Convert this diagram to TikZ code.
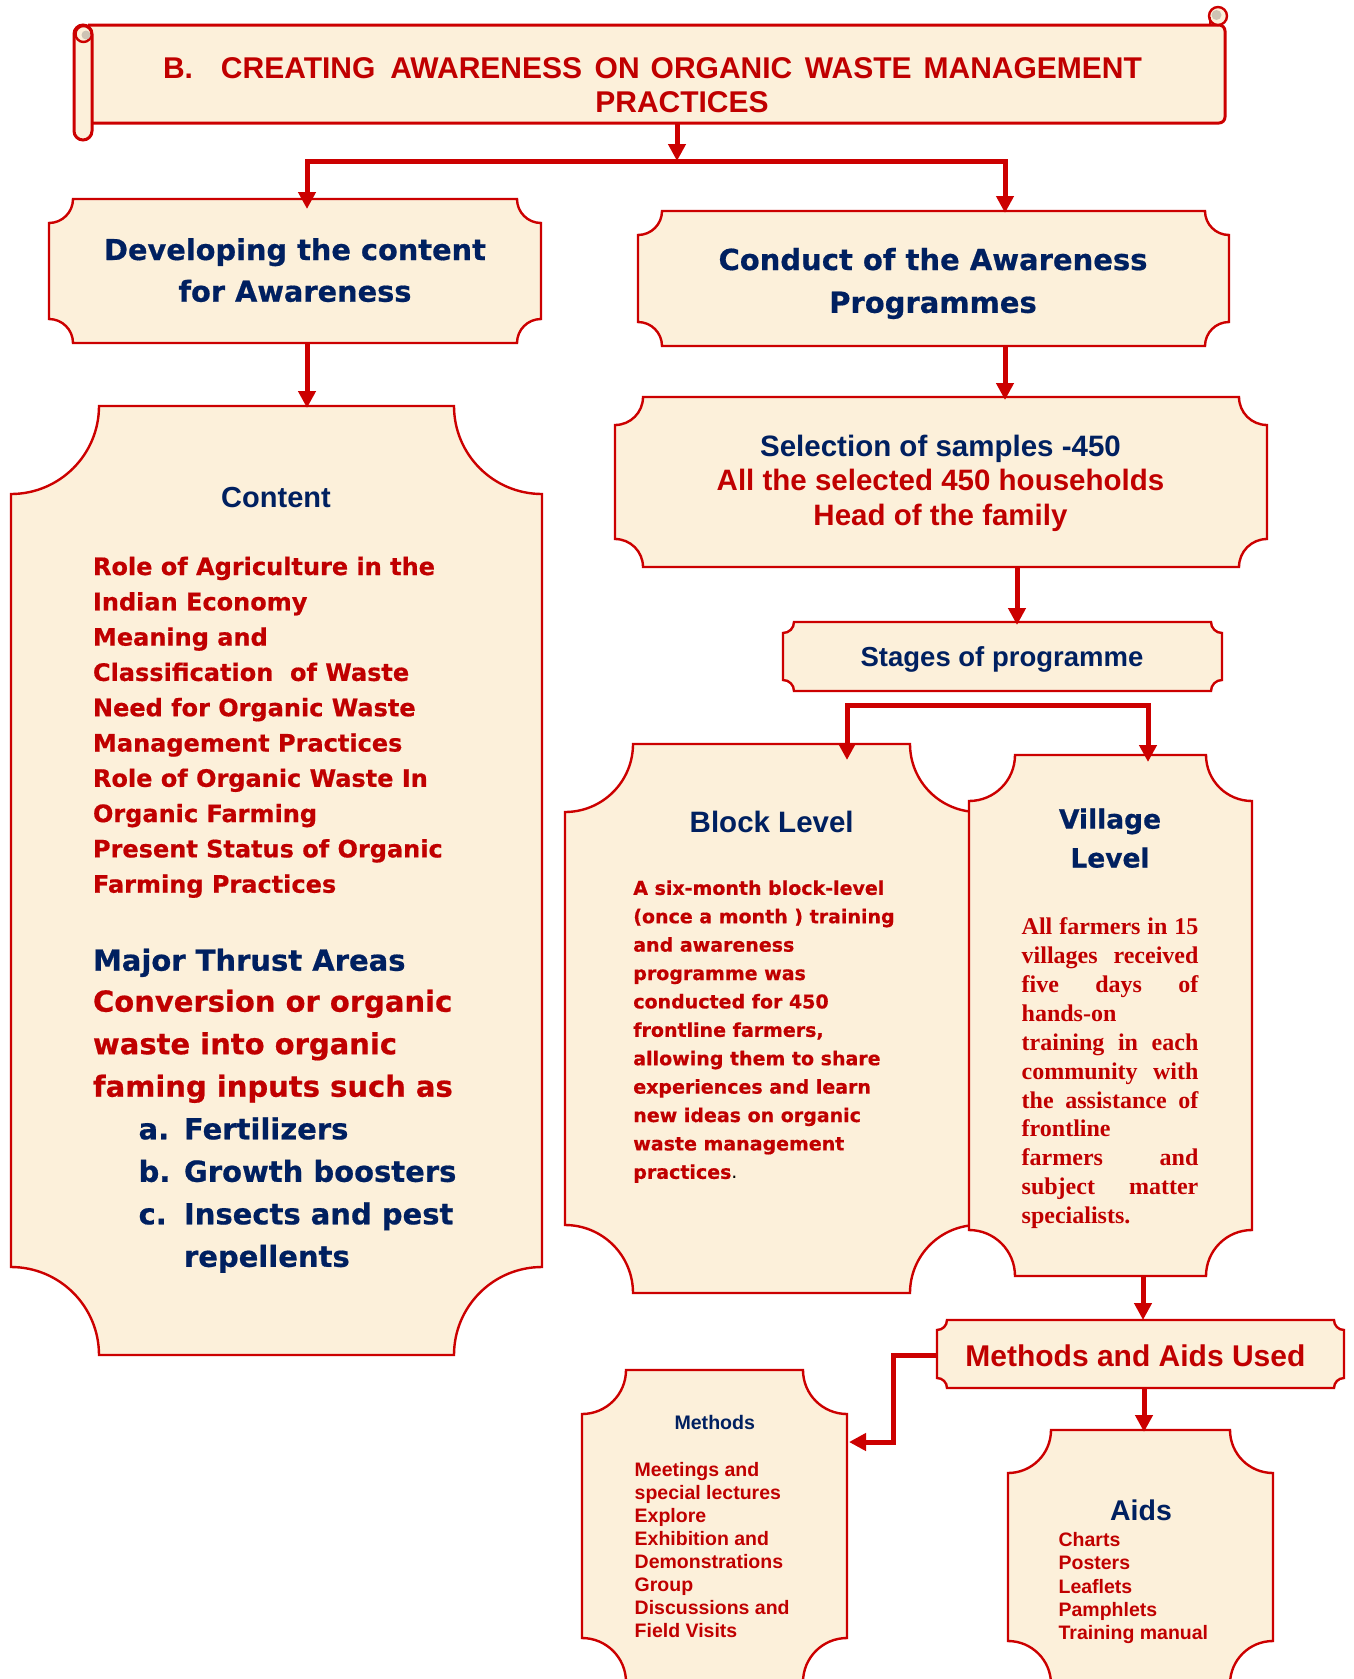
\documentclass[tikz,border=0pt]{standalone}
\usepackage{fontspec}
\setmainfont{Liberation Sans}
\newfontfamily\dvs{DejaVu Sans}[BoldFeatures={FakeBold=0.6}]
\newfontfamily\tms{Liberation Serif}
\usetikzlibrary{arrows.meta,fit}
\definecolor{boxred}{RGB}{204,0,0}
\definecolor{txtred}{RGB}{192,0,0}
\definecolor{navy}{RGB}{0,32,96}
\definecolor{parch}{RGB}{252,240,218}
\definecolor{curlgrey}{RGB}{205,195,180}
\newcommand\fsz[2]{\fontsize{#1pt}{#2pt}\selectfont}
% name, x1, y1, x2, y2, r  (y grows downward)
\newcommand\myplaque[6]{%
  \pgfmathsetmacro\pk{0.5523*#6}%
  \draw[boxline] ({#2+#6},#3) -- ({#4-#6},#3)
     .. controls ({#4-#6},{#3+\pk}) and ({#4-\pk},{#3+#6}) .. (#4,{#3+#6})
     -- (#4,{#5-#6})
     .. controls ({#4-\pk},{#5-#6}) and ({#4-#6},{#5-\pk}) .. ({#4-#6},#5)
     -- ({#2+#6},#5)
     .. controls ({#2+#6},{#5-\pk}) and ({#2+\pk},{#5-#6}) .. (#2,{#5-#6})
     -- (#2,{#3+#6})
     .. controls ({#2+\pk},{#3+#6}) and ({#2+#6},{#3+\pk}) .. cycle;
  \coordinate (#1-nw) at (#2,#3);
  \coordinate (#1-se) at (#4,#5);
  \node[fit=(#1-nw)(#1-se), inner sep=0pt, outer sep=0pt] (#1) {};
}
\begin{document}
\begin{tikzpicture}[x=1pt,y=-1pt,
  boxline/.style={draw=boxred,line width=2.4pt,fill=parch},
  arr/.style={draw=boxred,line width=5pt,-{Triangle[length=17pt,width=17pt]}},
  txt/.style={inner sep=0pt,outer sep=0pt},
  ]
\useasboundingbox (0,0) rectangle (1354,1679);
\fill[white] (0,0) rectangle (1354,1679);

% ---------- title scroll ----------
\draw[draw=boxred,line width=3pt,fill=parch,rounded corners=6pt]
  (88,25) -- (1225,25) -- (1225,123) -- (88,123);
\draw[draw=boxred,line width=3pt,fill=parch,rounded corners=9pt] (74,25) rectangle (92,140);
\draw[draw=boxred,line width=2.4pt,fill=parch] (83.5,34) circle[radius=8pt];
\fill[curlgrey] (86,35) circle[radius=4.5pt];
\draw[draw=boxred,line width=2.4pt,fill=parch] (1218,16) circle[radius=9pt];
\fill[curlgrey] (1216.5,15) circle[radius=5pt];
\draw[draw=boxred,line width=2.4pt] (1210,17) -- (1210,25);
\coordinate (ttl-nw) at (74,25);
\coordinate (ttl-se) at (1225,123);
\node[fit=(ttl-nw)(ttl-se), inner sep=0pt, outer sep=0pt] (title) {};

% ---------- boxes ----------
\myplaque{dev}{49}{199}{541}{343}{24}
\myplaque{conduct}{638}{211}{1229}{346}{24}
\myplaque{content}{11}{406}{542}{1355}{88}
\myplaque{select}{615}{397}{1267}{567}{28}
\myplaque{stages}{783}{622}{1222}{691}{11}
\myplaque{block}{565}{744}{978}{1293}{68}
\myplaque{village}{969}{755}{1252}{1276}{46}
\myplaque{ma}{937}{1320}{1344}{1388}{10}
\myplaque{methods}{582}{1370}{847}{1682}{44}
\myplaque{aids}{1008}{1430}{1273}{1684}{43}

% ---------- connectors ----------
\coordinate (barL) at (307,161);
\coordinate (barR) at (1005,161);
\coordinate (barM) at (677,161);
\draw[arr] (title.south -| barM) -- (barM);
\draw[arr,shorten >=-10pt] (barR) -- (barL) -- (dev.north -| barL);
\draw[arr,shorten >=-2pt] (barL) -- (barR) -- (conduct.north -| barR);
\draw[arr,shorten >=-2pt] (dev.south -| barL) -- (content.north -| barL);
\coordinate (cx) at (1005,0);
\draw[arr,shorten >=-3pt] (conduct.south -| cx) -- (select.north -| cx);
\coordinate (sx) at (1017,0);
\draw[arr,shorten >=-3pt] (select.south -| sx) -- (stages.north -| sx);
\coordinate (sbL) at (847,705);
\coordinate (sbR) at (1148,705);
\draw[arr,shorten >=-16pt] (sbR) -- (sbL) -- (block.north -| sbL);
\draw[arr,shorten >=-7pt] (sbL) -- (sbR) -- (village.north -| sbR);
\coordinate (vx) at (1143,0);
\draw[arr] (village.south -| vx) -- (ma.north -| vx);
\coordinate (mb1) at (893,1355);
\coordinate (mb2) at (893,1442);
\draw[arr,shorten >=2pt] (ma.west |- mb1) -- (mb1) -- (mb2) -- (methods.east |- mb2);
\coordinate (ax) at (1144,0);
\draw[arr,shorten >=-2pt] (ma.south -| ax) -- (aids.north -| ax);

% ---------- texts ----------
\node[txt,anchor=base west,text=txtred,font=\bfseries\fsz{30}{34}] (t-title1) at (163,78)
  {B.\hspace{28pt}CREATING\hspace{15pt}AWARENESS\hspace{12.6pt}ON\hspace{11pt}ORGANIC\hspace{12.6pt}WASTE\hspace{12pt}MANAGEMENT};
\node[txt,anchor=base,text=txtred,font=\bfseries\fsz{30}{34}] (t-title2) at (682,112) {PRACTICES};

\node[txt,anchor=base,text=navy,font=\dvs\bfseries\fsz{28.8}{41.7}] (t-dev) at (295,260)
  {\parbox[t]{480pt}{\centering Developing the content\\for Awareness}};
\node[txt,anchor=base,text=navy,font=\dvs\bfseries\fsz{29}{42.8}] (t-conduct) at (933,270)
  {\parbox[t]{580pt}{\centering Conduct of the Awareness\\Programmes}};

\node[txt,anchor=base,text=navy,font=\bfseries\fsz{29}{34}] (t-content) at (276,507) {Content};
\node[txt,anchor=base west,text=txtred,font=\dvs\bfseries\fsz{24}{35.3}] (t-clist) at (93,575)
  {\parbox[t]{440pt}{\raggedright Role of Agriculture in the\\Indian Economy\\Meaning and\\Classification\ \ of Waste\\Need for Organic Waste\\Management Practices\\Role of Organic Waste In\\Organic Farming\\Present Status of Organic\\Farming Practices}};
\node[txt,anchor=base west,text=navy,font=\dvs\bfseries\fsz{29}{42.5}] (t-major) at (93,970.7) {Major Thrust Areas};
\node[txt,anchor=base west,text=txtred,font=\dvs\bfseries\fsz{29}{42.5}] (t-conv) at (93,1011.7)
  {\parbox[t]{440pt}{\raggedright Conversion or organic\\waste into organic\\faming inputs such as}};
\node[txt,anchor=base west,text=navy,font=\dvs\bfseries\fsz{29}{42.5}] (t-abc) at (138.6,1139.3)
  {\parbox[t]{40pt}{\raggedright a.\\b.\\c.}};
\node[txt,anchor=base west,text=navy,font=\dvs\bfseries\fsz{29}{42.5}] (t-items) at (184,1139.3)
  {\parbox[t]{340pt}{\raggedright Fertilizers\\Growth boosters\\Insects and pest\\repellents}};

\node[txt,anchor=base,text=navy,font=\bfseries\fsz{29.5}{34.8}] (t-sel1) at (940.5,456) {Selection of samples -450};
\node[txt,anchor=base,text=txtred,font=\bfseries\fsz{29.5}{35}] (t-sel2) at (940.5,490.7)
  {\parbox[t]{620pt}{\centering All the selected 450 households\\Head of the family}};

\node[txt,anchor=base,text=navy,font=\bfseries\fsz{27.5}{32}] (t-stages) at (1002,666) {Stages of programme};

\node[txt,anchor=base,text=navy,font=\bfseries\fsz{29.5}{34}] (t-block) at (771.7,832) {Block Level};
\node[txt,anchor=base west,text=txtred,font=\dvs\bfseries\fsz{19}{28.4}] (t-btext) at (633.3,894.8)
  {\parbox[t]{320pt}{\raggedright A six-month block-level\\(once a month ) training\\and awareness\\programme was\\conducted for 450\\frontline farmers,\\allowing them to share\\experiences and learn\\new ideas on organic\\waste management\\practices{\color{black}\mdseries.}}};

\node[txt,anchor=base,text=navy,font=\dvs\bfseries\fsz{26.5}{38.9}] (t-village) at (1110,828.6)
  {\parbox[t]{240pt}{\centering Village\\Level}};
\node[txt,anchor=base west,text=txtred,font=\tms\bfseries\fsz{24}{28.9}] (t-vtext) at (1021.7,934.6)
  {\parbox[t]{176.7pt}{\raggedright
  \makebox[176.7pt][s]{All farmers in 15}\\
  \makebox[176.7pt][s]{villages received}\\
  \makebox[176.7pt][s]{five days of}\\
  hands-on\\
  \makebox[176.7pt][s]{training in each}\\
  \makebox[176.7pt][s]{community with}\\
  \makebox[176.7pt][s]{the assistance of}\\
  frontline\\
  \makebox[176.7pt][s]{farmers and}\\
  \makebox[176.7pt][s]{subject matter}\\
  specialists.}};

\node[txt,anchor=base,text=txtred,font=\bfseries\fsz{30}{35}] (t-ma) at (1135.4,1366.7) {Methods and Aids Used};

\node[txt,anchor=base,text=navy,font=\bfseries\fsz{19.6}{23}] (t-methods) at (714.8,1429.3) {Methods};
\node[txt,anchor=base west,text=txtred,font=\bfseries\fsz{19.5}{23}] (t-mlist) at (634.7,1476.7)
  {\parbox[t]{200pt}{\raggedright Meetings and\\special lectures\\Explore\\Exhibition and\\Demonstrations\\Group\\Discussions and\\Field Visits}};

\node[txt,anchor=base,text=navy,font=\bfseries\fsz{28.5}{33}] (t-aids) at (1141,1520.7) {Aids};
\node[txt,anchor=base west,text=txtred,font=\bfseries\fsz{19.5}{23.2}] (t-alist) at (1058.6,1546.7)
  {\parbox[t]{200pt}{\raggedright Charts\\Posters\\Leaflets\\Pamphlets\\Training manual}};
\end{tikzpicture}
\end{document}
